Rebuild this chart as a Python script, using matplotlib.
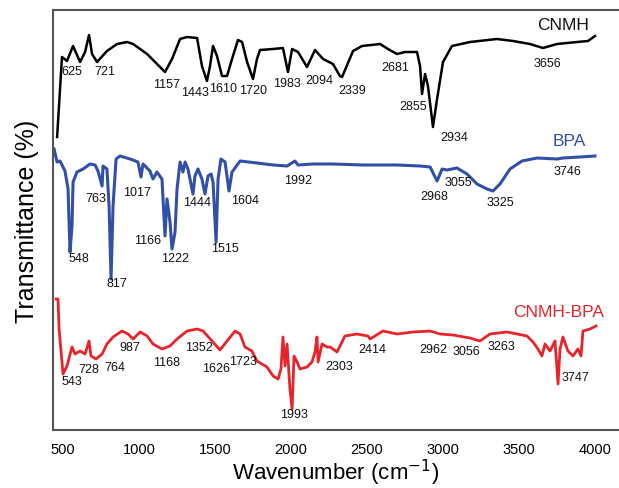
import matplotlib
matplotlib.use('Agg')
import matplotlib.pyplot as plt

plt.rcParams['font.family'] = ['Liberation Sans', 'DejaVu Sans']

# Traced spectra (wavenumber, stacked transmittance in arbitrary units)
cnmh_wn = [461, 493, 526, 566, 612, 645, 671, 691, 724, 789, 855, 921, 961, 1053, 1138,
           1171, 1217, 1270, 1316, 1382, 1414, 1447, 1467, 1487, 1513, 1546, 1579, 1612,
           1651, 1678, 1711, 1750, 1776, 1796, 1882, 1947, 1980, 2007, 2046, 2105, 2158,
           2211, 2276, 2322, 2336, 2408, 2467, 2586, 2638, 2697, 2750, 2829, 2849, 2862,
           2882, 2901, 2934, 2961, 3000, 3059, 3178, 3355, 3461, 3572, 3658, 3750, 3882,
           3954, 4000]
cnmh_t = [293, 373, 369, 384, 368, 378, 395, 376, 368, 379, 386, 388, 386, 376, 363,
          358, 371, 391, 393, 392, 364, 349, 364, 384, 374, 354, 354, 371,
          390, 388, 368, 351, 371, 380, 381, 382, 358, 381, 378, 363, 380,
          371, 366, 354, 353, 379, 384, 386, 381, 376, 378, 378, 364, 336,
          356, 344, 303, 331, 368, 384, 388, 391, 389, 386, 382, 386, 388,
          389, 394]

bpa_wn = [441, 461, 480, 513, 533, 546, 559, 566, 592, 632, 678, 711, 730, 757, 763, 789,
          803, 816, 829, 849, 875, 941, 993, 1013, 1026, 1072, 1092, 1118, 1151, 1171,
          1184, 1204, 1217, 1237, 1250, 1270, 1289, 1303, 1322, 1355, 1368, 1388, 1414,
          1434, 1454, 1474, 1487, 1507, 1520, 1539, 1566, 1592, 1612, 1665, 1776, 1882,
          1974, 2026, 2046, 2145, 2276, 2474, 2697, 2849, 2915, 2961, 2994, 3026, 3092,
          3158, 3224, 3290, 3329, 3375, 3441, 3520, 3619, 3750, 3789, 3901, 4000]
bpa_t = [281, 268, 269, 259, 241, 178, 204, 248, 258, 261, 266, 265, 259, 244, 264, 261,
         224, 151, 224, 271, 274, 271, 268, 253, 266, 259, 251, 258, 251, 194,
         231, 208, 181, 198, 241, 268, 258, 268, 261, 236, 254, 261, 251,
         236, 254, 256, 248, 188, 251, 271, 268, 239, 258, 269, 267, 265,
         264, 269, 265, 266, 266, 265, 265, 264, 263, 249, 261, 260, 262,
         256, 246, 241, 239, 246, 261, 269, 272, 271, 272, 273, 274]

mix_wn = [454, 467, 474, 500, 526, 559, 579, 612, 645, 671, 684, 717, 757, 789, 829, 888,
          928, 961, 1007, 1053, 1092, 1151, 1204, 1250, 1316, 1382, 1421, 1480, 1533,
          1579, 1632, 1665, 1697, 1743, 1776, 1842, 1882, 1915, 1934, 1947, 1961, 1974,
          1993, 2007, 2020, 2040, 2059, 2105, 2138, 2158, 2171, 2178, 2204, 2237, 2257,
          2303, 2355, 2434, 2507, 2520, 2605, 2697, 2803, 2915, 2980, 3066, 3178, 3243,
          3309, 3421, 3487, 3553, 3592, 3625, 3651, 3671, 3704, 3737, 3757, 3770, 3789,
          3822, 3855, 3888, 3908, 3921, 3967, 4007]
mix_t = [131, 131, 101, 56, 64, 83, 76, 79, 76, 89, 74, 71, 76, 86, 93, 99,
         96, 91, 98, 94, 86, 81, 84, 91, 99, 101, 99, 89, 80,
         89, 99, 96, 83, 79, 69, 63, 54, 51, 61, 93, 64, 86,
         41, 21, 74, 68, 61, 63, 68, 78, 93, 68, 86, 83, 83,
         78, 94, 96, 94, 91, 99, 96, 98, 99, 96, 95, 92, 89,
         96, 98, 96, 94, 88, 81, 74, 86, 79, 89, 46, 81, 93,
         79, 74, 81, 74, 99, 101, 104]

# Peak annotations: (text, x, y)
cnmh_peaks = [('625', 559, 359), ('721', 776, 359), ('1157', 1178, 346), ('1443', 1368, 338),
              ('1610', 1553, 342), ('1720', 1750, 340), ('1983', 1974, 347), ('2094', 2184, 350),
              ('2339', 2401, 340), ('2681', 2684, 363), ('2855', 2803, 324), ('2934', 3072, 293),
              ('3656', 3684, 367)]
bpa_peaks = [('548', 605, 172), ('763', 717, 232), ('817', 855, 147), ('1017', 987, 238),
             ('1166', 1059, 190), ('1222', 1237, 172), ('1444', 1382, 228), ('1515', 1566, 182),
             ('1604', 1697, 230), ('1992', 2046, 250), ('2968', 2941, 234), ('3055', 3099, 248),
             ('3325', 3375, 228), ('3746', 3822, 259)]
mix_peaks = [('543', 559, 49), ('728', 671, 61), ('764', 842, 63), ('987', 941, 83),
             ('1168', 1178, 68), ('1352', 1395, 83), ('1626', 1507, 62), ('1723', 1684, 69),
             ('1993', 2020, 16), ('2303', 2316, 64), ('2414', 2533, 81), ('2962', 2934, 81),
             ('3056', 3151, 79), ('3263', 3382, 84), ('3747', 3875, 53)]

black = '#000000'
blue = '#3350A8'
red = '#E8242A'

fig = plt.figure(figsize=(6.19, 4.89), dpi=100)
ax = fig.add_axes([53 / 619, 58 / 489, 566 / 619, 420 / 489])

ax.plot(cnmh_wn, cnmh_t, color=black, linewidth=1.8)
ax.plot(bpa_wn, bpa_t, color=blue, linewidth=2.2)
ax.plot(mix_wn, mix_t, color=red, linewidth=2.0)

for peaks in (cnmh_peaks, bpa_peaks, mix_peaks):
    for txt, x, y in peaks:
        ax.text(x, y, txt, fontsize=9, ha='center', va='center', color='#111111')

ax.text(3790, 405, 'CNMH', fontsize=12.5, ha='center', va='center', color='#111111')
ax.text(3829, 289, 'BPA', fontsize=12.5, ha='center', va='center', color=blue)
ax.text(3763, 118, 'CNMH-BPA', fontsize=12.5, ha='center', va='center', color=red)

ax.set_xlim(434, 4158)
ax.set_ylim(0, 420)
ax.set_xticks([500, 1000, 1500, 2000, 2500, 3000, 3500, 4000])
ax.set_yticks([])
ax.tick_params(axis='x', length=0, pad=9, labelsize=10.5)
ax.spines['right'].set_visible(False)
for s in ('left', 'top', 'bottom'):
    ax.spines[s].set_color('#555555')
    ax.spines[s].set_linewidth(1.5)

ax.set_xlabel('Wavenumber (cm$^{-1}$)', fontsize=16, labelpad=0)
ax.set_ylabel('Transmittance (%)', fontsize=18, labelpad=10)

fig.savefig('out.png', dpi=100)
